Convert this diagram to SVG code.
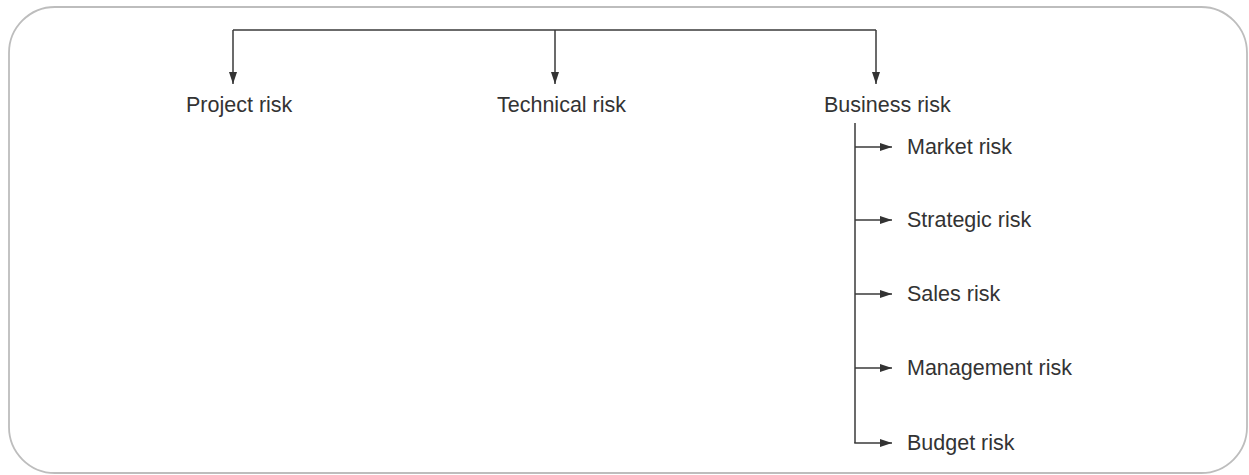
<svg xmlns="http://www.w3.org/2000/svg" width="1249" height="475" viewBox="0 0 1249 475">
<defs>
<style>
.t{font-family:"Liberation Sans",Arial,sans-serif;font-size:21.5px;fill:#333}
.c{stroke:#3a3a3a;stroke-width:1.5;fill:none}
</style>
<marker id="ah" viewBox="0 0 12 8" refX="12" refY="4" markerWidth="12" markerHeight="8" markerUnits="userSpaceOnUse" orient="auto">
<path d="M0,0 L12,4 L0,8 Z" fill="#333"/>
</marker>
</defs>
<rect x="0" y="0" width="1249" height="475" fill="#fff"/>
<rect id="frame" x="9" y="7" width="1238" height="466" rx="46" ry="46" fill="none" stroke="#bdbdbd" stroke-width="1.8"/>
<g id="connectors">
<path class="c" d="M233,30 H876"/>
<path class="c" d="M233,30 V84" marker-end="url(#ah)"/>
<path class="c" d="M555,30 V84" marker-end="url(#ah)"/>
<path class="c" d="M876,30 V84" marker-end="url(#ah)"/>
<path class="c" d="M855,123 V443"/>
<path class="c" d="M855,147 H892" marker-end="url(#ah)"/>
<path class="c" d="M855,220 H892" marker-end="url(#ah)"/>
<path class="c" d="M855,294 H892" marker-end="url(#ah)"/>
<path class="c" d="M855,368 H892" marker-end="url(#ah)"/>
<path class="c" d="M854.25,443 H892" marker-end="url(#ah)"/>
</g>
<g id="project"><text class="t" x="186" y="112">Project risk</text></g>
<g id="technical"><text class="t" x="497" y="112">Technical risk</text></g>
<g id="business"><text class="t" x="824" y="112">Business risk</text></g>
<g id="market"><text class="t" x="907" y="154">Market risk</text></g>
<g id="strategic"><text class="t" x="907" y="227">Strategic risk</text></g>
<g id="sales"><text class="t" x="907" y="301">Sales risk</text></g>
<g id="management"><text class="t" x="907" y="375">Management risk</text></g>
<g id="budget"><text class="t" x="907" y="450">Budget risk</text></g>
</svg>
